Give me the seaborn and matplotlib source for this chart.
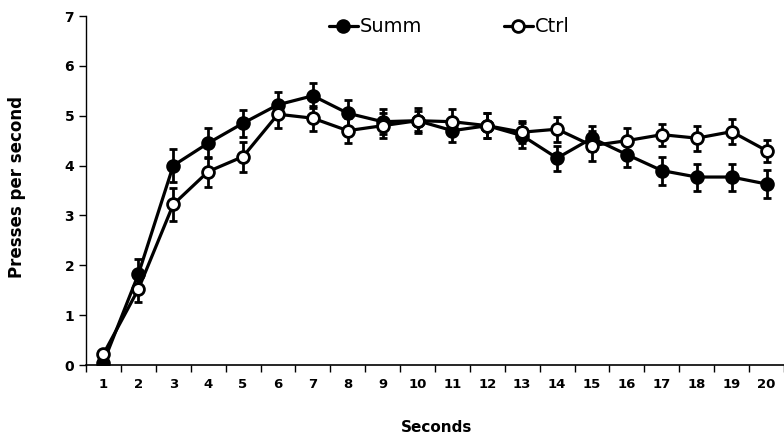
import numpy as np
import pandas as pd
import matplotlib
matplotlib.use("Agg")
import matplotlib.pyplot as plt
import seaborn as sns
from matplotlib.lines import Line2D

seconds = list(range(1, 21))
summ = [0.05, 1.82, 4.00, 4.45, 4.85, 5.22, 5.40, 5.05, 4.88, 4.90,
        4.70, 4.80, 4.60, 4.15, 4.55, 4.22, 3.90, 3.77, 3.77, 3.63]
summ_err = [0.05, 0.30, 0.33, 0.30, 0.27, 0.25, 0.25, 0.27, 0.25, 0.20,
            0.22, 0.25, 0.25, 0.25, 0.25, 0.25, 0.28, 0.27, 0.27, 0.28]
ctrl = [0.22, 1.52, 3.22, 3.88, 4.18, 5.03, 4.95, 4.70, 4.80, 4.90,
        4.88, 4.80, 4.67, 4.73, 4.40, 4.50, 4.62, 4.55, 4.68, 4.30]
ctrl_err = [0.08, 0.25, 0.33, 0.30, 0.30, 0.27, 0.25, 0.25, 0.25, 0.25,
            0.25, 0.25, 0.22, 0.25, 0.30, 0.25, 0.22, 0.25, 0.25, 0.22]
groups = ["Summ", "Ctrl"]

sns.set_theme(style="ticks")
plt.rcParams['font.family'] = ['DejaVu Sans']
plt.rcParams.update({"text.color": "black", "axes.labelcolor": "black",
                     "xtick.color": "black", "ytick.color": "black"})

df = pd.DataFrame({
    "Seconds": seconds * 2,
    "value": summ + ctrl,
    "err": summ_err + ctrl_err,
    "group": ["Summ"] * 20 + ["Ctrl"] * 20,
})

fig = plt.figure(figsize=(7.84, 4.36), dpi=100)
ax = fig.add_axes([86 / 784, 71 / 436, 698 / 784, 349 / 436])

styles = {"Summ": dict(mfc="black"), "Ctrl": dict(mfc="white")}
for g in groups:
    sub = df[df.group == g]
    ax.errorbar(sub["Seconds"], sub["value"], yerr=sub["err"], fmt="none",
                ecolor="black", elinewidth=2, capsize=3, capthick=2, zorder=2)
    sns.lineplot(data=sub, x="Seconds", y="value", ax=ax, color="black",
                 linewidth=2.3, marker="o", markersize=8.5,
                 markerfacecolor=styles[g]["mfc"], markeredgecolor="black",
                 markeredgewidth=2, zorder=3, label=g, legend=False)

ax.set_xlim(0.5, 20.32)
ax.set_ylim(0, 7)
ax.set_yticks(range(0, 8))
ax.set_xticks(seconds)
ax.set_xticks(np.arange(0.5, 21, 1), minor=True)
ax.tick_params(axis="x", which="major", length=0, pad=9, labelsize=9.5,
               colors="black")
ax.tick_params(axis="x", which="minor", length=5, width=1, direction="out",
               colors="black")
ax.tick_params(axis="y", length=5, width=1, direction="out", labelsize=10,
               colors="black")
for lab in ax.get_xticklabels() + ax.get_yticklabels():
    lab.set_fontweight("bold")
ax.spines["top"].set_visible(False)
ax.spines["right"].set_visible(False)
ax.spines["left"].set_linewidth(1)
ax.spines["bottom"].set_linewidth(1.2)
ax.spines["left"].set_color("black")
ax.spines["bottom"].set_color("black")

ax.set_xlabel("")
ax.set_ylabel("Presses per second", fontsize=12, fontweight="bold")
ax.yaxis.set_label_coords((26 - 86) / 698, (365 - 187) / 349)
fig.text(437 / 784, 9 / 436, "Seconds", fontsize=11, fontweight="bold",
         ha="center", va="center")

hs = [Line2D([], [], color="black", lw=2.3, marker="o", markersize=8.5,
             markerfacecolor=styles[g]["mfc"], markeredgecolor="black",
             markeredgewidth=2) for g in groups]
fig.legend(hs, groups, loc="upper center", bbox_to_anchor=(0.573, 1.0),
           ncol=2, frameon=False, fontsize=14, handlelength=1.5,
           handletextpad=0.1, columnspacing=4.2)

fig.savefig("out.png", dpi=100)
